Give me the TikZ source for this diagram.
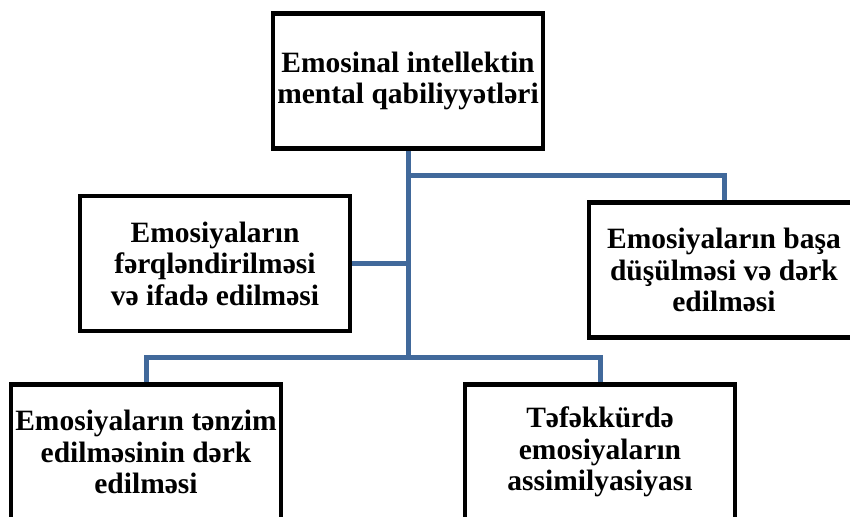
\documentclass[tikz,border=0pt]{standalone}
\usepackage{fontspec}
\setmainfont{Liberation Serif}
\usepackage{tikz}
\usetikzlibrary{arrows,positioning}
\definecolor{linkblue}{RGB}{65,105,155}

\begin{document}
\begin{tikzpicture}[x=1pt,y=-1pt,line join=miter,
                    font=\fontsize{29.5}{31.5}\selectfont\bfseries]
  \tikzstyle{box}=[draw=black,line width=4.5pt,fill=white,align=center,
                   minimum width=270pt,minimum height=135pt,inner sep=0pt]
  \tikzstyle{link}=[draw=linkblue,line width=5pt]

  \useasboundingbox (0,0) rectangle (850,516);
  \clip (0,0) rectangle (850,516);

  \node[box] (T) at (408,81) {Emosinal intellektin\\mental qabiliyyətləri};
  \node[box] (L) at (215,263.5) {Emosiyaların\\fərqləndirilməsi\\və ifadə edilməsi};
  \node[box] (R) at (724,270) {Emosiyaların başa\\düşülməsi və dərk\\edilməsi};
  \node[box] (BL) at (146,452) {Emosiyaların tənzim\\edilməsinin dərk\\edilməsi};
  \node[box] (BR) at (600,452) {Təfəkkürdə\\emosiyaların\\assimilyasiyası};

  \coordinate (J1) at (408,175);
  \coordinate (J2) at (408,263.5);
  \coordinate (J3) at (408,357);

  \path[link] (T.south) -- (J3);
  \path[link] (J1) -| (R.north);
  \path[link] (J2) -- (L.east);
  \path[link] (BL.north) |- (J3) -| (BR.north);
\end{tikzpicture}
\end{document}
